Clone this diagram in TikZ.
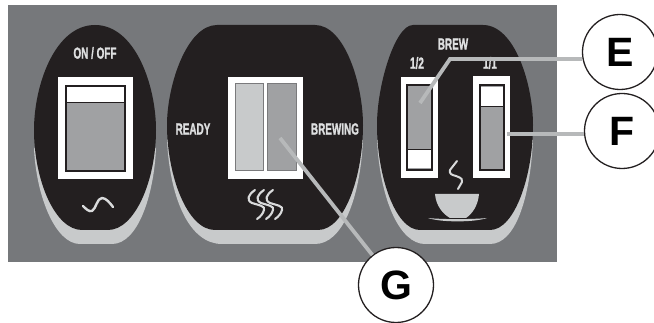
\documentclass[tikz,border=0pt]{standalone}
\usepackage{fontspec}
\setmainfont{Liberation Sans}
\newfontfamily\panelfont[FakeBold=1.6]{Liberation Sans}
\definecolor{panel}{HTML}{76787B}
\definecolor{ink}{HTML}{231F20}
\definecolor{pale}{HTML}{C8CACB}
\definecolor{midgrey}{HTML}{A0A1A3}
\definecolor{lead}{HTML}{B7B9BA}
\tikzset{
  blackpart/.style={fill=ink,draw=none},
  palepart/.style={fill=pale,draw=none},
  whitebox/.style={fill=white,draw=none},
  slot/.style={draw=ink,line width=1.1pt},
  leader/.style={draw=lead,line width=3.8pt},
  callout/.style={circle,draw=ink,line width=1.3pt,fill=white,minimum size=75pt,inner sep=0pt,font=\bfseries\fontsize{41}{41}\selectfont},
  label/.style={text=pale!60!white,inner sep=0pt,font=\panelfont\bfseries\fontsize{16}{16}\selectfont},
  symbol/.style={draw=pale!70!white,line width=2.4pt,line cap=round,line join=round}
}
\newcommand{\nar}[1]{\scalebox{0.62}[1]{#1}}
\begin{document}
\begin{tikzpicture}[x=1pt,y=-1pt]
\useasboundingbox (0,0) rectangle (654,323);
\begin{scope}
\clip (0,0) rectangle (654,323);
\fill[panel] (8,5) rectangle (557,262);

% left oval
\fill[palepart] (34,148) .. controls (36,195) and (55,244) .. (80,244) -- (112,244) .. controls (138,244) and (154,195) .. (156,148) -- cycle;
\fill[blackpart] (95,25) .. controls (135,25) and (156,85) .. (156,130) .. controls (156,180) and (135,230) .. (108,230) -- (82,230) .. controls (55,230) and (34,180) .. (34,130) .. controls (34,85) and (55,25) .. (95,25) -- cycle;
\fill[whitebox] (58,77) rectangle (133,179);
\fill[midgrey] (66,86) rectangle (125,171);
\fill[white] (66,87) rectangle (125,102);
\draw[slot] (66,86) rectangle (125,171);
\draw[ink,line width=0.8pt] (66,102.5) -- (125,102.5);
\node[label] (onoff) at (95,53) {\nar{ON / OFF}};
\draw[symbol] (83,206) .. controls (86,209) and (89,212) .. (92,211) .. controls (96,209) and (97,198) .. (102,198) .. controls (106,198) and (110,203) .. (113,207);

% middle shape
\fill[palepart] (167,140) .. controls (170,200) and (190,244) .. (222,244) -- (315,244) .. controls (342,244) and (360,200) .. (363,140) -- cycle;
\fill[blackpart] (217,25) -- (315,25) .. controls (345,25) and (363,85) .. (363,125) .. controls (363,175) and (345,230) .. (318,230) -- (215,230) .. controls (187,230) and (167,175) .. (167,125) .. controls (167,85) and (187,25) .. (217,25) -- cycle;
\fill[whitebox] (228,77) rectangle (303,179);
\fill[pale] (235,84) rectangle (263,171);
\draw[midgrey!70!ink,line width=1pt] (235,84) rectangle (263,171);
\fill[midgrey] (267,84) rectangle (296,171);
\draw[midgrey!70!ink,line width=1pt] (267,84) rectangle (296,171);
\node[label] (ready) at (193,129) {\nar{READY}};
\node[label] (brewing) at (335,129) {\nar{BREWING}};
\foreach \dx in {0,9,18}{
  \draw[symbol,line width=2.1pt] ({255+\dx},190) .. controls ({248+\dx},195) and ({246+\dx},200) .. ({252+\dx},203) .. controls ({258+\dx},205) and ({266+\dx},206) .. ({264+\dx},210) .. controls ({263+\dx},214) and ({260+\dx},217) .. ({257+\dx},219);
}

% right oval
\fill[palepart] (377,140) .. controls (380,200) and (400,244) .. (425,244) -- (490,244) .. controls (515,244) and (530,200) .. (533,140) -- cycle;
\fill[blackpart] (413,25) -- (483,25) .. controls (515,25) and (533,85) .. (533,125) .. controls (533,175) and (515,230) .. (490,230) -- (420,230) .. controls (395,230) and (377,175) .. (377,125) .. controls (377,85) and (395,25) .. (413,25) -- cycle;
\fill[whitebox] (401,77) rectangle (438,178);
\fill[midgrey] (407,85) rectangle (432,170);
\fill[white] (408,149) rectangle (431,168);
\draw[slot] (407,85) rectangle (432,170);
\draw[ink,line width=0.7pt] (407,149) -- (432,149);
\fill[whitebox] (473,76) rectangle (510,178);
\fill[midgrey] (480,85) rectangle (504,170);
\fill[white] (481,87) rectangle (503,106);
\draw[slot] (480,85) rectangle (504,170);
\draw[ink,line width=0.7pt] (480,106.5) -- (504,106.5);
\node[label] (brew) at (453,44) {\nar{BREW}};
\node[label] (half) at (417,63) {\nar{1/2}};
\node[label] (full) at (490,63) {\nar{1/1}};
% steam, cup, saucer
\draw[symbol,line width=2pt] (457,161) -- (450,170) .. controls (449,174) and (452,175) .. (456,176) .. controls (462,178) and (463,180) .. (462,182) -- (458,189);
\fill[pale] (435,194) -- (479,194) .. controls (478,206) and (472,214) .. (466,218) -- (450,218) .. controls (443,214) and (436,206) .. (435,194) -- cycle;
\fill[pale] (428,218) .. controls (442,219.5) and (472,219.5) .. (487,218) .. controls (474,222.5) and (441,222.5) .. (428,218) -- cycle;

% callouts
\node[callout] (E) at (620,52) {E};
\node[callout] (F) at (622,131) {F};
\node[callout] (G) at (396,285) {G};
\coordinate (eknee) at (450,59);
\coordinate (etip) at (420,103);
\coordinate (ftip) at (507,134);
\coordinate (gtip) at (280,138);
\draw[leader] (etip) -- (eknee) -- (eknee -| E.west);
\draw[leader] (ftip) -- (ftip -| F.west);
\draw[leader] (gtip) -- (G);
\end{scope}
\end{tikzpicture}
\end{document}
